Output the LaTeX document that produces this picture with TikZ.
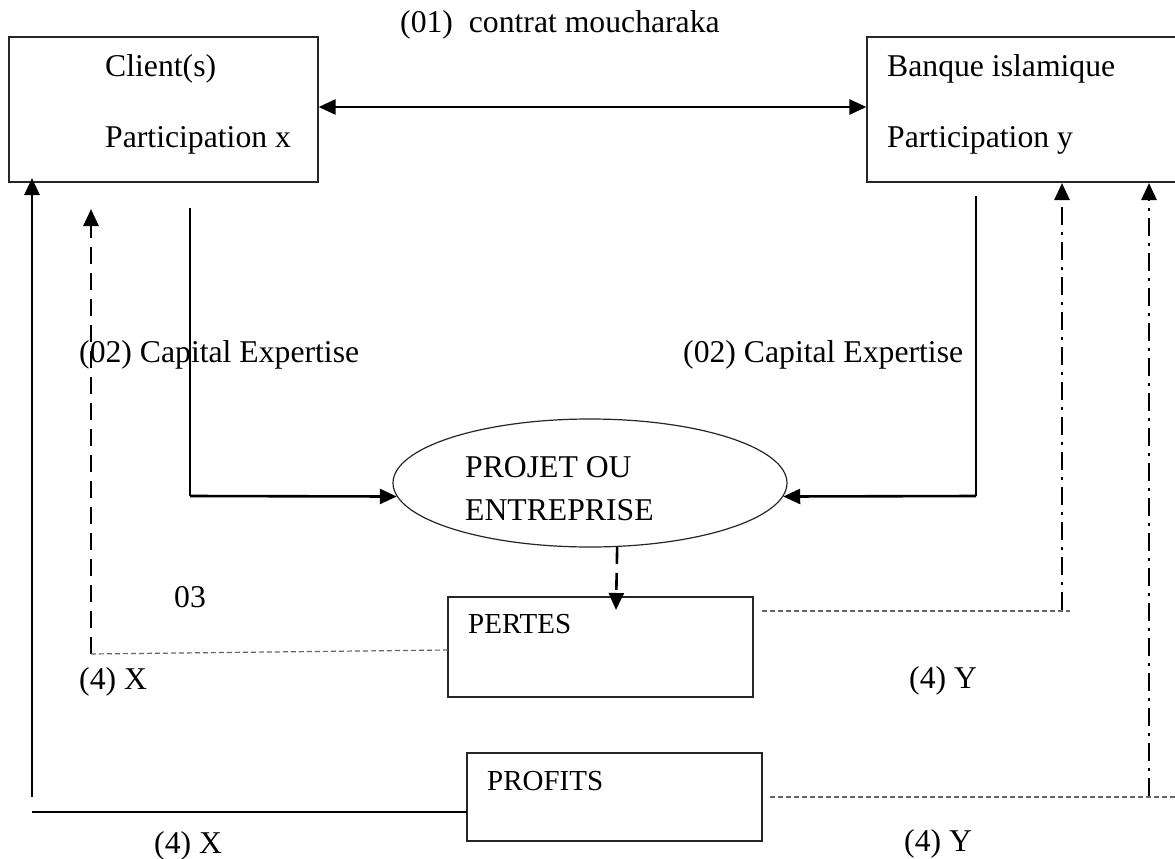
\documentclass[tikz,border=0pt]{standalone}
\usepackage{fontspec}
\setmainfont{Liberation Serif}
\usetikzlibrary{arrows.meta,shapes.geometric}
\tikzset{
  lbl/.style={anchor=base west, inner sep=0pt, font=\fontsize{31.7}{38}\selectfont},
  smalllbl/.style={anchor=base west, inner sep=0pt, font=\fontsize{29}{35}\selectfont},
  boxnode/.style={draw=black!85, line width=1.2pt, rectangle, inner sep=0pt},
  tip/.style={-{Triangle[length=17pt,width=15pt]}},
  thickline/.style={line width=2.6pt},
  thinline/.style={line width=1.2pt},
  dashline/.style={line width=2.6pt, dash pattern=on 17pt off 9pt},
  dashdotline/.style={line width=2.6pt, dash pattern=on 18pt off 7pt on 3pt off 7pt},
  finedash/.style={line width=1.2pt, draw=black!60, dash pattern=on 5pt off 3pt},
}
\begin{document}
\begin{tikzpicture}[x=1pt,y=-1pt]
\useasboundingbox (0,0) rectangle (1175,859);
\fill[white] (0,0) rectangle (1175,859);

% boxes
\node[boxnode, minimum width=309pt, minimum height=145pt] (client) at (163.5,109.5) {};
\node[boxnode, minimum width=313pt, minimum height=145pt] (banque) at (1023.5,109.5) {};
\node[draw=black!85, line width=1.2pt, ellipse, inner sep=0pt, minimum width=394pt, minimum height=128pt] (ell) at (590,483) {};
\node[boxnode, minimum width=305pt, minimum height=100pt] (pertes) at (600.5,647) {};
\node[boxnode, minimum width=295pt, minimum height=88pt] (profits) at (614.5,797) {};

% texts
\node[lbl] (t01) at (400,33) {(01)\ \ contrat moucharaka};
\node[lbl] (tcl) at (105,77) {Client(s)};
\node[lbl] (tpx) at (105,147) {Participation x};
\node[lbl] (tbq) at (887,77) {Banque islamique};
\node[lbl] (tpy) at (887,147) {Participation y};
\node[lbl] (tcap1) at (79,362) {(02) Capital Expertise};
\node[lbl] (tcap2) at (683,362) {(02) Capital Expertise};
\node[lbl] (tpr1) at (465,477) {PROJET OU};
\node[lbl] (tpr2) at (465,520) {ENTREPRISE};
\node[lbl] (t03) at (174,607) {03};
\node[smalllbl] (tpe) at (468,633) {PERTES};
\node[smalllbl] (tpf) at (487,790) {PROFITS};
\node[lbl] (tx1) at (79,689) {(4) X};
\node[lbl] (ty1) at (909,688) {(4) Y};
\node[lbl] (tx2) at (154,853) {(4) X};
\node[lbl] (ty2) at (904,851) {(4) Y};

% coordinates
\coordinate (lc) at (190,208);
\coordinate (lcb) at (190,496);
\coordinate (rc) at (976,196);
\coordinate (rcb) at (976,496);
\coordinate (pa) at (616,610);
\coordinate (lxb) at (91,654);
\coordinate (lxt) at (91,209);
\coordinate (pw) at (448,650);
\coordinate (sb) at (32,797);
\coordinate (st) at (32,178);
\coordinate (hb) at (32,812);
\coordinate (prw) at (467,812);
\coordinate (pe1) at (762,611);
\coordinate (pe2) at (1070,611);
\coordinate (v1b) at (1062,610);
\coordinate (v1t) at (1062,183);
\coordinate (pf1) at (770,797);
\coordinate (pf2) at (1180,797);
\coordinate (v2b) at (1149,796);
\coordinate (v2t) at (1149,183);

% connectors
\draw[thickline, {Triangle[length=17pt,width=15pt]}-{Triangle[length=17pt,width=15pt]}] ([yshift=2.5pt]client.east) -- ([yshift=2.5pt]banque.west);
\draw[thinline] (lc) -- (lcb);
\draw[thickline, tip] (lcb) -- (ell.184);
\draw[thinline] (rc) -- (rcb);
\draw[thickline, tip] (rcb) -- (ell.-4);
\draw[dashline, tip] (ell.-67.7) -- (pa);
\draw[dashline, tip] (lxb) -- (lxt);
\draw[finedash] (lxb) -- (pw);
\draw[thickline, tip] (sb) -- (st);
\draw[thinline] (hb) -- (prw);
\draw[finedash] (pe1) -- (pe2);
\draw[dashdotline, tip] (v1b) -- (v1t);
\draw[finedash] (pf1) -- (pf2);
\draw[dashdotline, tip] (v2b) -- (v2t);
\end{tikzpicture}
\end{document}
